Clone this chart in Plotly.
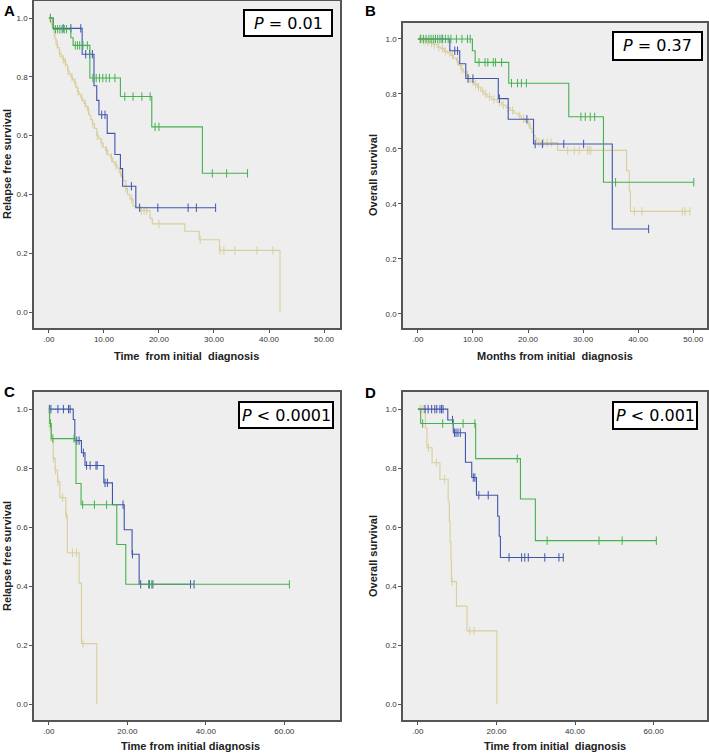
import plotly.graph_objects as go

# ---------------- DATA ----------------
# Panel A: Relapse free survival
A_tan_t = [0.3, 0.5, 0.7, 0.9, 1.1, 1.3, 1.6, 1.9, 2.2, 2.5, 2.8, 3.1, 3.4, 3.7, 4.0, 4.3, 4.6, 4.9, 5.2,
           5.5, 5.8, 6.1, 6.4, 6.7, 7.0, 7.3, 7.6, 7.9, 8.3, 8.7, 9.1, 9.5, 9.9, 10.3, 10.7, 11.2, 11.6,
           12.0, 12.4, 12.8, 13.2, 13.5, 14.0, 14.3, 14.7, 15.3, 16.5, 18.4, 18.8, 24.7, 27.3, 31.0, 42.0]
A_tan_s = [0.99, 0.98, 0.97, 0.95, 0.93, 0.91, 0.90, 0.88, 0.87, 0.86, 0.85, 0.84, 0.82, 0.81, 0.80, 0.79,
           0.78, 0.765, 0.75, 0.74, 0.73, 0.72, 0.71, 0.70, 0.685, 0.67, 0.655, 0.64, 0.625, 0.60, 0.59,
           0.575, 0.56, 0.55, 0.535, 0.525, 0.51, 0.50, 0.49, 0.475, 0.46, 0.447, 0.42, 0.40, 0.385, 0.36,
           0.345, 0.318, 0.30, 0.275, 0.246, 0.21, 0.0]
A_tan_cens = [0.2, 0.6, 1.0, 1.5, 2.0, 2.6, 3.0, 3.5, 4.2, 4.8, 5.3, 6.0, 6.6, 7.2, 8.0, 8.8, 9.6, 10.5,
              11.4, 12.2, 13.0, 14.0, 15.0, 16.8, 17.3, 17.8, 20.0, 27.5, 31.1, 31.8, 33.8, 37.8, 40.7]
A_tan_end = 42.0
A_blue_t = [0.8, 6.05, 8.2, 8.7, 9.1, 10.6, 12.0, 13.0, 13.4, 15.8]
A_blue_s = [0.965, 0.877, 0.77, 0.72, 0.671, 0.608, 0.536, 0.488, 0.428, 0.355]
A_blue_cens = [0.3, 2.6, 4.0, 5.8, 6.7, 7.4, 7.9, 9.6, 10.2, 15.0, 16.5, 19.8, 25.3, 26.8, 30.3]
A_blue_end = 30.3
A_green_t = [0.8, 4.0, 4.4, 7.45, 13.0, 18.7, 27.9]
A_green_s = [0.962, 0.933, 0.907, 0.796, 0.733, 0.630, 0.472]
A_green_cens = [0.3, 1.2, 1.6, 2.0, 2.4, 2.8, 3.2, 4.8, 5.2, 5.6, 6.2, 7.0, 8.0, 8.6, 9.2, 9.8, 10.4,
                11.0, 12.0, 13.8, 15.3, 16.9, 18.4, 19.3, 20.0, 29.7, 32.3, 36.1]
A_green_end = 36.1

# Panel B: Overall survival
B_tan_t = [0.8, 1.5, 2.2, 2.8, 3.5, 4.2, 4.8, 5.4, 6.0, 6.5, 7.0, 7.4, 7.8, 8.3, 8.7, 9.1, 9.6, 10.2,
           10.8, 11.4, 12.0, 12.6, 13.4, 14.4, 15.2, 16.0, 16.8, 17.5, 18.2, 18.8, 19.5, 20.0, 20.4,
           20.7, 21.0, 21.3, 21.6, 25.4, 37.9, 38.4, 38.6]
B_tan_s = [0.995, 0.99, 0.985, 0.98, 0.97, 0.965, 0.955, 0.95, 0.94, 0.93, 0.92, 0.905, 0.89, 0.88,
           0.87, 0.855, 0.845, 0.835, 0.825, 0.81, 0.80, 0.79, 0.78, 0.77, 0.76, 0.75, 0.74, 0.73,
           0.72, 0.71, 0.70, 0.69, 0.675, 0.66, 0.65, 0.64, 0.623, 0.595, 0.521, 0.448, 0.373]
B_tan_cens = [0.3, 0.6, 1.0, 1.3, 1.8, 2.5, 3.0, 3.8, 4.5, 5.0, 5.8, 6.3, 7.2, 8.0, 9.0, 9.3, 10.0,
              10.5, 11.0, 11.8, 12.3, 13.0, 13.8, 14.8, 15.5, 16.4, 17.2, 18.5, 19.2, 20.2, 22.0,
              22.8, 23.5, 24.2, 27.2, 28.4, 29.3, 30.8, 31.1, 31.4, 39.3, 40.7, 48.0, 48.5, 49.4]
B_tan_end = 49.4
B_blue_t = [5.8, 7.6, 8.7, 14.6, 16.4, 21.0, 35.3]
B_blue_s = [0.957, 0.91, 0.856, 0.783, 0.708, 0.618, 0.309]
B_blue_cens = [4.4, 6.7, 7.2, 9.1, 10.0, 14.8, 19.8, 21.3, 22.6, 26.5, 30.1, 41.9]
B_blue_end = 41.9
B_green_t = [9.9, 10.4, 16.5, 27.4, 33.7]
B_green_s = [0.957, 0.915, 0.839, 0.717, 0.479]
B_green_cens = [0.5, 1.0, 1.5, 2.0, 2.4, 2.8, 3.2, 3.6, 4.0, 4.5, 5.0, 5.5, 6.0, 7.0, 8.0, 9.0, 9.5,
                11.1, 12.2, 12.7, 13.7, 14.1, 15.2, 17.0, 18.1, 18.8, 19.7, 29.6, 30.4, 31.3, 32.1,
                35.9, 50.1]
B_green_end = 50.1

# Panel C: Relapse free survival
C_tan_t = [0.1, 0.5, 1.1, 1.6, 2.2, 2.8, 4.3, 4.7, 7.7, 8.3, 12.2]
C_tan_s = [0.94, 0.894, 0.833, 0.793, 0.754, 0.70, 0.641, 0.513, 0.41, 0.205, 0.0]
C_tan_cens = [0.3, 1.2, 1.7, 2.3, 3.5, 4.4, 6.0, 7.0, 8.7]
C_tan_end = 12.2
C_blue_t = [6.2, 6.6, 8.3, 9.2, 14.0, 16.2, 19.2, 21.2, 23.0]
C_blue_s = [0.965, 0.893, 0.852, 0.809, 0.750, 0.676, 0.591, 0.508, 0.406]
C_blue_cens = [0.1, 0.5, 2.3, 3.7, 5.0, 5.4, 7.1, 7.7, 8.8, 9.6, 10.5, 12.0, 12.3, 14.3, 14.9, 18.9,
               21.3, 23.4, 25.6, 26.5, 36.1, 37.0]
C_blue_end = 37.0
C_green_t = [0.2, 0.6, 6.9, 8.2, 17.3, 19.6]
C_green_s = [0.951, 0.90, 0.748, 0.676, 0.541, 0.406]
C_green_cens = [0.4, 1.0, 6.4, 8.6, 11.6, 14.7, 25.4, 26.2, 61.3]
C_green_end = 61.3

# Panel D: Overall survival
D_tan_t = [1.9, 2.3, 3.6, 5.6, 7.7, 8.0, 8.2, 8.4, 8.55, 9.8, 12.5, 20.1]
D_tan_s = [0.935, 0.869, 0.818, 0.762, 0.686, 0.62, 0.55, 0.488, 0.415, 0.332, 0.248, 0.0]
D_tan_cens = [0.5, 1.0, 1.5, 2.7, 4.7, 6.8, 8.7, 13.2, 14.3]
D_tan_end = 20.1
D_blue_t = [7.6, 9.0, 12.1, 13.7, 14.9, 20.3, 20.7, 21.0]
D_blue_s = [0.963, 0.920, 0.820, 0.768, 0.708, 0.637, 0.569, 0.497]
D_blue_cens = [1.8, 2.6, 3.5, 4.3, 4.8, 5.6, 6.0, 6.4, 8.8, 9.3, 9.7, 10.2, 10.8, 14.1, 14.5, 15.5,
               17.9, 23.2, 26.4, 27.2, 28.1, 32.3, 35.9, 37.0]
D_blue_end = 37.0
D_green_t = [0.7, 14.7, 26.1, 29.9]
D_green_s = [0.951, 0.832, 0.695, 0.554]
D_green_cens = [1.2, 6.3, 9.0, 11.5, 14.5, 25.3, 32.9, 46.1, 52.0, 60.7]
D_green_end = 60.7

# Tick labels
X_TICKS_50 = [0, 10, 20, 30, 40, 50]
X_TEXT_50 = [".00", "10.00", "20.00", "30.00", "40.00", "50.00"]
X_TICKS_60 = [0, 20, 40, 60]
X_TEXT_60 = [".00", "20.00", "40.00", "60.00"]
Y_TICKS = [0.0, 0.2, 0.4, 0.6, 0.8, 1.0]
Y_TEXT = ["0.0", "0.2", "0.4", "0.6", "0.8", "1.0"]

P_TEXTS = ["<i>P</i> = 0.01", "<i>P</i> = 0.37", "<i>P</i> &lt; 0.0001", "<i>P</i> &lt; 0.001"]
PANEL_LETTERS = ["A", "B", "C", "D"]
Y_TITLES = ["Relapse free survival", "Overall survival", "Relapse free survival", "Overall survival"]
X_TITLES = ["Time  from initial  diagnosis", "Months from initial  diagnosis",
            "Time from initial diagnosis", "Time from initial  diagnosis"]

# ---------------- STYLE ----------------
W, H = 709, 754
TAN = "#d8cf9c"
BLUE = "#4055ad"
GREEN = "#45b14f"
FONT = "Liberation Sans, Arial, sans-serif"


def surv_at(ts, ss, tc):
    v = 1.0
    for ti, si in zip(ts, ss):
        if ti <= tc:
            v = si
    return v


fig = go.Figure()


def add_curve(ax, ts, ss, cens, end, color):
    xs = [0.0] + list(ts)
    ys = [1.0] + list(ss)
    if end > ts[-1]:
        xs.append(end)
        ys.append(ss[-1])
    xa = "x" if ax == 1 else f"x{ax}"
    ya = "y" if ax == 1 else f"y{ax}"
    fig.add_trace(go.Scatter(x=xs, y=ys, mode="lines", line=dict(color=color, width=1.1, shape="hv"),
                             xaxis=xa, yaxis=ya, showlegend=False, hoverinfo="skip"))
    cy = [surv_at(ts, ss, c) for c in cens]
    fig.add_trace(go.Scatter(x=cens, y=cy, mode="markers",
                             marker=dict(symbol="line-ns", size=6, line=dict(color=color, width=1)),
                             xaxis=xa, yaxis=ya, showlegend=False, hoverinfo="skip"))


panels = [
    (1, [(A_tan_t, A_tan_s, A_tan_cens, A_tan_end, TAN), (A_blue_t, A_blue_s, A_blue_cens, A_blue_end, BLUE),
         (A_green_t, A_green_s, A_green_cens, A_green_end, GREEN)]),
    (2, [(B_tan_t, B_tan_s, B_tan_cens, B_tan_end, TAN), (B_blue_t, B_blue_s, B_blue_cens, B_blue_end, BLUE),
         (B_green_t, B_green_s, B_green_cens, B_green_end, GREEN)]),
    (3, [(C_tan_t, C_tan_s, C_tan_cens, C_tan_end, TAN), (C_blue_t, C_blue_s, C_blue_cens, C_blue_end, BLUE),
         (C_green_t, C_green_s, C_green_cens, C_green_end, GREEN)]),
    (4, [(D_tan_t, D_tan_s, D_tan_cens, D_tan_end, TAN), (D_blue_t, D_blue_s, D_blue_cens, D_blue_end, BLUE),
         (D_green_t, D_green_s, D_green_cens, D_green_end, GREEN)]),
]
for ax, curves in panels:
    for c in curves:
        add_curve(ax, *c)

# pixel geometry of each plot frame (left, top, right, bottom)
frames = [(34, 1, 340, 328), (403, 23, 707, 328), (34, 392, 340, 720), (403, 392, 707, 720)]
xranges = [[-2.7, 52.9], [-2.7, 52.5], [-3.8, 74.2], [-3.8, 73.6]]
yranges = [[-0.054, 1.058], [-0.051, 1.058], [-0.054, 1.058], [-0.054, 1.058]]
xticks = [(X_TICKS_50, X_TEXT_50), (X_TICKS_50, X_TEXT_50), (X_TICKS_60, X_TEXT_60), (X_TICKS_60, X_TEXT_60)]

layout = dict(width=W, height=H, margin=dict(l=0, r=0, t=0, b=0), paper_bgcolor="white",
              plot_bgcolor="#eeeeee", showlegend=False, font=dict(family=FONT, color="#222"))
for i, (l, t, r, b) in enumerate(frames):
    sfx = "" if i == 0 else str(i + 1)
    axis_common = dict(showgrid=False, zeroline=False, showline=True, linecolor="#555", linewidth=1.5,
                       mirror=True, ticks="outside", ticklen=3, tickcolor="#555",
                       tickfont=dict(size=8, color="#333", family=FONT), fixedrange=True)
    layout["xaxis" + sfx] = dict(axis_common, domain=[l / W, r / W], range=xranges[i],
                                 tickvals=xticks[i][0], ticktext=xticks[i][1],
                                 anchor="y" + sfx)
    layout["yaxis" + sfx] = dict(axis_common, domain=[1 - b / H, 1 - t / H], range=yranges[i],
                                 tickvals=Y_TICKS, ticktext=Y_TEXT, anchor="x" + sfx)
fig.update_layout(**layout)

# P-value boxes (pixel boxes)
pboxes = [(244, 10, 332, 36), (613, 32, 702, 60), (239, 402, 333, 428), (613, 402, 697, 429)]
for (x0, y0, x1, y1), txt in zip(pboxes, P_TEXTS):
    fig.add_shape(type="rect", xref="paper", yref="paper", x0=x0 / W, x1=x1 / W,
                  y0=1 - y1 / H, y1=1 - y0 / H, line=dict(color="black", width=2), fillcolor="white")
    fig.add_annotation(xref="paper", yref="paper", x=(x0 + x1) / 2 / W, y=1 - (y0 + y1) / 2 / H,
                       text=txt, showarrow=False, xanchor="center", yanchor="middle",
                       font=dict(family="DejaVu Sans, Verdana, sans-serif", size=16, color="black"))

# Panel letters
letter_pos = [(9, 10), (370, 10), (9, 391), (370, 392)]
for (px, py), letter in zip(letter_pos, PANEL_LETTERS):
    fig.add_annotation(xref="paper", yref="paper", x=px / W, y=1 - py / H, text=f"<b>{letter}</b>",
                       showarrow=False, xanchor="center", yanchor="middle",
                       font=dict(family=FONT, size=15, color="black"))

# Axis titles
ytitle_pos = [(7, 164), (373, 175), (7, 556), (373, 556)]
for (px, py), txt in zip(ytitle_pos, Y_TITLES):
    fig.add_annotation(xref="paper", yref="paper", x=px / W, y=1 - py / H, text=f"<b>{txt}</b>",
                       showarrow=False, textangle=-90, xanchor="center", yanchor="middle",
                       font=dict(family=FONT, size=11, color="#222"))
xtitle_pos = [(187, 356), (555, 356), (190, 746), (555, 746)]
for (px, py), txt in zip(xtitle_pos, X_TITLES):
    fig.add_annotation(xref="paper", yref="paper", x=px / W, y=1 - py / H, text=f"<b>{txt}</b>",
                       showarrow=False, xanchor="center", yanchor="middle",
                       font=dict(family=FONT, size=11, color="#222"))

fig.write_html("out.html", config={"displayModeBar": False},
               post_script="document.body.style.margin='0px';document.body.style.overflow='hidden';")
